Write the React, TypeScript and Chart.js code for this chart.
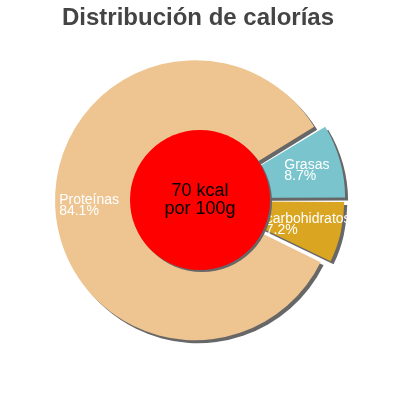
import React, { useEffect, useRef } from "react";
import { Chart, registerables } from "chart.js";

Chart.register(...registerables);

const TITLE = "Distribución de calorías";
const CATEGORIES = ["carbohidratos", "Proteínas", "Grasas"];
const VALUES = [7.2, 84.1, 8.7];
const COLORS = ["#DAA520", "#EEC591", "#7AC5CD"];
const EXPLODE = [24, 20, 28];
const CENTER_LINES = ["70 kcal", "por 100g"];

const FONT = "'Liberation Sans', Arial, Helvetica, sans-serif";

const piePlugin = {
  id: "pieDecor",
  beforeDatasetsDraw(chart: any) {
    const ctx = chart.ctx;
    ctx.save();
    ctx.shadowColor = "#676767";
    ctx.shadowOffsetX = 3;
    ctx.shadowOffsetY = 3;
    ctx.shadowBlur = 0;
  },
  afterDatasetsDraw(chart: any) {
    const ctx = chart.ctx;
    ctx.restore();
    const meta = chart.getDatasetMeta(0);
    const first = meta.data[0];
    const cx = first.x;
    const cy = first.y;

    // slice labels
    ctx.save();
    ctx.fillStyle = "#ffffff";
    ctx.font = `14px ${FONT}`;
    ctx.textAlign = "left";
    ctx.textBaseline = "alphabetic";
    meta.data.forEach((arc: any, i: number) => {
      const mid = (arc.startAngle + arc.endAngle) / 2;
      const lx = cx + Math.cos(mid) * 111;
      const ly = cy + Math.sin(mid) * 111;
      const lines = [CATEGORIES[i], VALUES[i].toFixed(1) + "%"];
      const w = Math.max(...lines.map((l) => ctx.measureText(l).width));
      const left = lx - w / 2;
      ctx.fillText(lines[0], left, ly - 1.5);
      ctx.fillText(lines[1], left, ly + 9.5);
    });
    ctx.restore();

    // centre disc
    ctx.save();
    ctx.shadowColor = "#676767";
    ctx.shadowOffsetX = 2;
    ctx.shadowOffsetY = 2;
    ctx.shadowBlur = 0;
    ctx.fillStyle = "#FF0000";
    ctx.beginPath();
    ctx.arc(cx, cy, 70, 0, Math.PI * 2);
    ctx.fill();
    ctx.restore();

    ctx.save();
    ctx.fillStyle = "#000000";
    ctx.font = `18px ${FONT}`;
    ctx.textAlign = "center";
    ctx.textBaseline = "alphabetic";
    ctx.fillText(CENTER_LINES[0], cx, cy - 4);
    ctx.fillText(CENTER_LINES[1], cx, cy + 14);
    ctx.restore();
  },
  afterDraw(chart: any) {
    const ctx = chart.ctx;
    ctx.save();
    ctx.fillStyle = "#444444";
    ctx.font = `bold 24px ${FONT}`;
    ctx.textAlign = "center";
    ctx.textBaseline = "alphabetic";
    ctx.fillText(TITLE, 198, 25);
    ctx.restore();
  },
};

export default function App() {
  const ref = useRef<HTMLCanvasElement | null>(null);
  useEffect(() => {
    if (!ref.current) return;
    const chart = new Chart(ref.current, {
      type: "pie",
      data: {
        labels: CATEGORIES,
        datasets: [
          {
            data: VALUES,
            backgroundColor: COLORS,
            borderWidth: 0,
            offset: EXPLODE,
            hoverOffset: 0,
          } as any,
        ],
      },
      options: {
        responsive: false,
        animation: false,
        rotation: 90,
        radius: 135,
        events: [],
        layout: { padding: 0 },
        plugins: {
          legend: { display: false },
          tooltip: { enabled: false },
          title: { display: false },
        },
      } as any,
      plugins: [piePlugin],
    });
    return () => chart.destroy();
  }, []);
  return (
    <div style={{ position: "absolute", left: 0, top: 0, width: 400, height: 400, background: "#fff" }}>
      <canvas ref={ref} width={400} height={400} />
    </div>
  );
}
